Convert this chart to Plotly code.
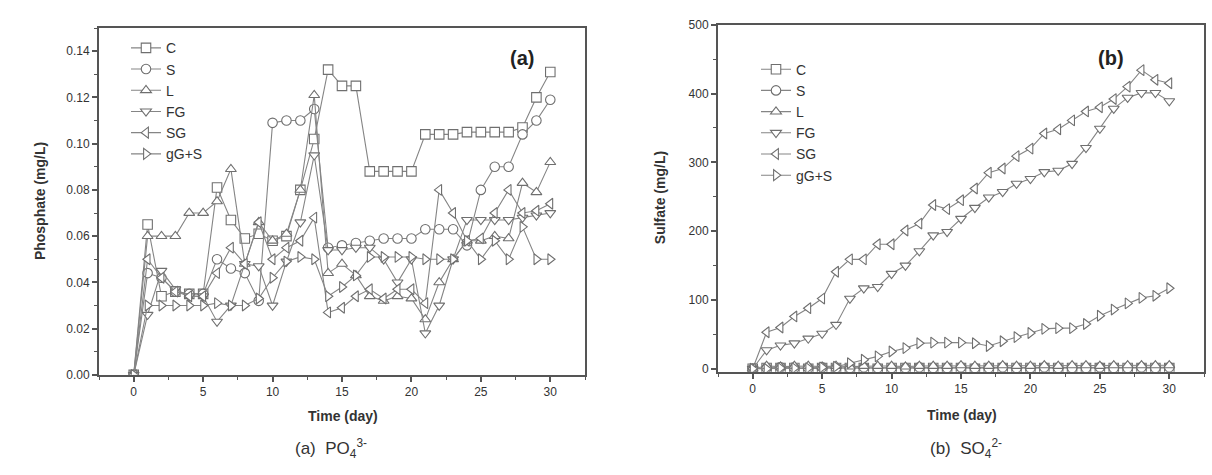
import plotly.graph_objects as go

days = list(range(0, 31))
series_names = ["C", "S", "L", "FG", "SG", "gG+S"]

# Phosphate (mg/L)
po4_C = [0, 0.065, 0.034, 0.036, 0.035, 0.035, 0.081, 0.067, 0.059, 0.061, 0.058,
         0.060, 0.080, 0.102, 0.132, 0.125, 0.125, 0.088, 0.088, 0.088, 0.088,
         0.104, 0.104, 0.104, 0.105, 0.105, 0.105, 0.105, 0.107, 0.120, 0.131]
po4_S = [0, 0.044, 0.042, 0.036, 0.035, 0.035, 0.050, 0.046, 0.044, 0.032, 0.109,
         0.110, 0.110, 0.115, 0.055, 0.056, 0.057, 0.058, 0.059, 0.059, 0.059,
         0.063, 0.063, 0.063, 0.056, 0.080, 0.090, 0.090, 0.104, 0.110, 0.119]
po4_L = [0, 0.060, 0.060, 0.060, 0.070, 0.070, 0.075, 0.089, 0.048, 0.066, 0.058,
         0.061, 0.080, 0.121, 0.044, 0.048, 0.043, 0.034, 0.032, 0.034, 0.033,
         0.024, 0.040, 0.050, 0.058, 0.058, 0.060, 0.059, 0.083, 0.079, 0.092]
po4_FG = [0, 0.026, 0.045, 0.037, 0.034, 0.034, 0.023, 0.030, 0.048, 0.047, 0.030,
          0.049, 0.066, 0.095, 0.054, 0.054, 0.055, 0.055, 0.050, 0.040, 0.050,
          0.018, 0.030, 0.050, 0.067, 0.067, 0.067, 0.067, 0.068, 0.069, 0.070]
po4_SG = [0, 0.050, 0.042, 0.036, 0.034, 0.034, 0.044, 0.055, 0.048, 0.066, 0.050,
          0.055, 0.058, 0.068, 0.027, 0.029, 0.034, 0.037, 0.033, 0.037, 0.037,
          0.031, 0.080, 0.070, 0.058, 0.059, 0.070, 0.080, 0.070, 0.071, 0.074]
po4_gGS = [0, 0.030, 0.030, 0.030, 0.030, 0.030, 0.031, 0.030, 0.030, 0.033, 0.042,
           0.049, 0.051, 0.050, 0.034, 0.038, 0.043, 0.051, 0.051, 0.051, 0.051,
           0.050, 0.050, 0.050, 0.058, 0.050, 0.058, 0.050, 0.064, 0.050, 0.050]

# Sulfate (mg/L)
so4_C = [0, 1, 1, 1, 0, 1, 1, 1, 1, 0, 1, 1, 1, 1, 1, 1, 0, 1, 1, 1, 1,
         1, 1, 1, 1, 1, 1, 1, 1, 1, 1]
so4_S = [0, 1, 2, 1, 1, 2, 1, 1, 2, 1, 1, 1, 2, 1, 1, 2, 1, 1, 2, 1, 1,
         2, 1, 1, 1, 2, 1, 1, 2, 1, 2]
so4_L = [0, 4, 3, 4, 4, 3, 4, 3, 4, 4, 4, 3, 4, 4, 4, 5, 4, 4, 5, 4, 4,
         5, 4, 5, 5, 4, 5, 5, 5, 5, 5]
so4_FG = [0, 27, 34, 37, 44, 51, 64, 102, 117, 119, 138, 150, 171, 194, 199, 218,
          234, 249, 257, 269, 276, 286, 288, 298, 321, 349, 378, 394, 401, 401, 389]
so4_SG = [0, 53, 60, 76, 88, 102, 141, 159, 159, 181, 181, 201, 211, 238, 232, 245,
          262, 285, 291, 309, 320, 342, 348, 361, 374, 380, 392, 410, 434, 420, 415]
so4_gGS = [0, 0, 1, 1, 1, 2, 3, 8, 13, 18, 25, 30, 37, 38, 38, 38, 37, 33, 40, 46,
           52, 58, 59, 59, 65, 77, 86, 95, 103, 106, 117]

po4_all = [po4_C, po4_S, po4_L, po4_FG, po4_SG, po4_gGS]
so4_all = [so4_C, so4_S, so4_L, so4_FG, so4_SG, so4_gGS]
symbols = ["square", "circle", "triangle-up", "triangle-down", "triangle-left", "triangle-right"]

W, H = 1212, 475
LINE = "#858585"
MK = "#6f6f6f"
AX = "#555555"
TXT = "#333333"
FONT = "Liberation Sans, Arial, sans-serif"

fig = go.Figure()

for name, sym, ys in zip(series_names, symbols, po4_all):
    fig.add_trace(go.Scatter(
        x=days, y=ys, name=name, mode="lines+markers",
        line=dict(color=LINE, width=1.1),
        marker=dict(symbol=sym, size=9.5, color="white", line=dict(color=MK, width=1.1)),
        xaxis="x", yaxis="y", legend="legend", hoverinfo="skip"))

for name, sym, ys in zip(series_names, symbols, so4_all):
    fig.add_trace(go.Scatter(
        x=days, y=ys, name=name, mode="lines+markers",
        line=dict(color=LINE, width=1.1),
        marker=dict(symbol=sym, size=9.5, color="white", line=dict(color=MK, width=1.1)),
        xaxis="x2", yaxis="y2", legend="legend2", hoverinfo="skip"))


def px_x(p):
    return p / W


def px_y(p):
    return 1 - p / H


axis_common = dict(
    showline=True, linewidth=2, linecolor=AX, mirror=True,
    ticks="outside", ticklen=5, tickwidth=1.5, tickcolor=AX,
    showgrid=False, zeroline=False,
    tickfont=dict(family=FONT, size=12, color=TXT),
)

fig.update_layout(
    width=W, height=H,
    margin=dict(l=0, r=0, t=0, b=0),
    paper_bgcolor="white", plot_bgcolor="white",
    font=dict(family=FONT, color=TXT),
    xaxis=dict(domain=[px_x(99), px_x(585)], range=[-2.5, 32.5], tickvals=[0, 5, 10, 15, 20, 25, 30],
               minor=dict(dtick=2.5, tick0=0, ticks="outside", ticklen=3, tickcolor=AX, tickwidth=1.2),
               anchor="y", **axis_common),
    yaxis=dict(domain=[px_y(379), px_y(21.7)], range=[0, 0.15], dtick=0.02, tick0=0, tickformat=".2f",
               minor=dict(dtick=0.01, tick0=0, ticks="outside", ticklen=3, tickcolor=AX, tickwidth=1.2),
               anchor="x", **axis_common),
    xaxis2=dict(domain=[px_x(718), px_x(1204)], range=[-2.5, 32.5], tickvals=[0, 5, 10, 15, 20, 25, 30],
                minor=dict(dtick=2.5, tick0=0, ticks="outside", ticklen=3, tickcolor=AX, tickwidth=1.2),
                anchor="y2", **axis_common),
    yaxis2=dict(domain=[px_y(375.7), px_y(18.3)], range=[-4.2, 500], dtick=100, tick0=0,
                minor=dict(dtick=50, tick0=0, ticks="outside", ticklen=3, tickcolor=AX, tickwidth=1.2),
                anchor="x2", **axis_common),
    legend=dict(x=px_x(126), y=px_y(26), xanchor="left", yanchor="top",
                bgcolor="rgba(0,0,0,0)", font=dict(family=FONT, size=14, color=TXT),
                tracegroupgap=0, itemclick=False),
    legend2=dict(x=px_x(756), y=px_y(48), xanchor="left", yanchor="top",
                 bgcolor="rgba(0,0,0,0)", font=dict(family=FONT, size=14, color=TXT),
                 tracegroupgap=0, itemclick=False),
    showlegend=True,
)

ann = [
    dict(text="<b>Phosphate (mg/L)</b>", x=px_x(40), y=px_y(200), textangle=-90, font=dict(size=14)),
    dict(text="<b>Sulfate (mg/L)</b>", x=px_x(660), y=px_y(197), textangle=-90, font=dict(size=14)),
    dict(text="<b>Time (day)</b>", x=px_x(343), y=px_y(421), font=dict(size=14)),
    dict(text="<b>Time (day)</b>", x=px_x(962), y=px_y(420), font=dict(size=14)),
    dict(text="(a)  PO<sub>4</sub><sup>3-</sup>", x=px_x(331), y=px_y(455), font=dict(size=17)),
    dict(text="(b)  SO<sub>4</sub><sup>2-</sup>", x=px_x(966), y=px_y(455), font=dict(size=17)),
    dict(text="<b>(a)</b>", x=px_x(522), y=px_y(53), font=dict(size=20, color="#222222")),
    dict(text="<b>(b)</b>", x=px_x(1111), y=px_y(53), font=dict(size=20, color="#222222")),
]
for a in ann:
    a.update(xref="paper", yref="paper", showarrow=False, xanchor="center", yanchor="middle")
    a["font"].setdefault("family", FONT)
    a["font"].setdefault("color", TXT)
fig.update_layout(annotations=ann)

fig.write_html("out.html")
